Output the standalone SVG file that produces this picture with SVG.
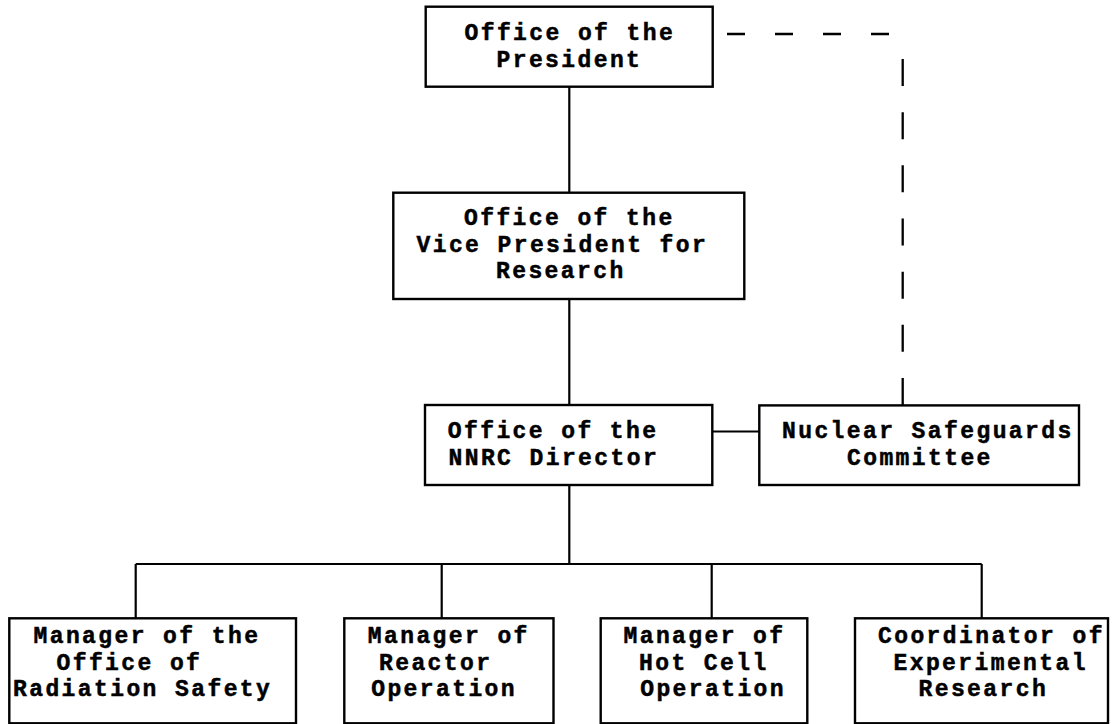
<svg xmlns="http://www.w3.org/2000/svg" width="1112" height="724" viewBox="0 0 1112 724">
<style>
.box{fill:#fff;stroke:#000;stroke-width:2.4}
.ln{fill:none;stroke:#000;stroke-width:2.2}
.dash{fill:none;stroke:#000;stroke-width:2.3}
text{font-family:"Liberation Mono","DejaVu Sans Mono",monospace;font-weight:bold;font-size:23px;letter-spacing:2.4px;fill:#000;stroke:#000;stroke-width:0.5}
</style>
<rect width="1112" height="724" fill="#fff"/>
<g id="connectors">
<line class="ln" x1="569.3" y1="86.7" x2="569.3" y2="192.7"/>
<line class="ln" x1="569.3" y1="299" x2="569.3" y2="405"/>
<line class="ln" x1="712.3" y1="431.5" x2="759.3" y2="431.5"/>
<line class="ln" x1="569.3" y1="485" x2="569.3" y2="564"/>
<line class="ln" x1="135.7" y1="564" x2="981.7" y2="564"/>
<line class="ln" x1="135.7" y1="564" x2="135.7" y2="618.3"/>
<line class="ln" x1="441.7" y1="564" x2="441.7" y2="618.3"/>
<line class="ln" x1="711.7" y1="564" x2="711.7" y2="618.3"/>
<line class="ln" x1="981.7" y1="564" x2="981.7" y2="618.3"/>
<line class="dash" x1="727" y1="34" x2="889" y2="34" stroke-dasharray="18 30"/>
<line class="dash" x1="902.7" y1="59" x2="902.7" y2="405" stroke-dasharray="27 26.17"/>
</g>
<g id="president">
<rect class="box" x="425.7" y="6.7" width="287" height="80"/>
<text x="464.5" y="40">Office of the</text>
<text x="496.5" y="66.7">President</text>
</g>
<g id="vice-president">
<rect class="box" x="393.3" y="192.7" width="351" height="106.3"/>
<text x="464" y="225">Office of the</text>
<text x="416.5" y="251.5">Vice President for</text>
<text x="496" y="278">Research</text>
</g>
<g id="director">
<rect class="box" x="425" y="405" width="287.3" height="80"/>
<text x="447.8" y="438">Office of the</text>
<text x="448.5" y="464.5">NNRC Director</text>
</g>
<g id="safeguards">
<rect class="box" x="759.3" y="405.4" width="319.7" height="79.6"/>
<text x="782" y="438">Nuclear Safeguards</text>
<text x="847" y="464.5">Committee</text>
</g>
<g id="radiation-safety">
<rect class="box" x="9.3" y="618.3" width="286.7" height="105"/>
<text x="33.5" y="643">Manager of the</text>
<text x="56.5" y="669.5">Office of</text>
<text x="13" y="696">Radiation Safety</text>
</g>
<g id="reactor">
<rect class="box" x="344.3" y="618.3" width="209.2" height="105"/>
<text x="367.8" y="643">Manager of</text>
<text x="379" y="669.5">Reactor</text>
<text x="371.2" y="696">Operation</text>
</g>
<g id="hot-cell">
<rect class="box" x="600.7" y="618.3" width="206.6" height="105"/>
<text x="623.5" y="643">Manager of</text>
<text x="639" y="669.5">Hot Cell</text>
<text x="640.2" y="696">Operation</text>
</g>
<g id="experimental">
<rect class="box" x="855" y="618.3" width="253" height="105"/>
<text x="878" y="643">Coordinator of</text>
<text x="893.5" y="669.5">Experimental</text>
<text x="918.5" y="696">Research</text>
</g>
</svg>
